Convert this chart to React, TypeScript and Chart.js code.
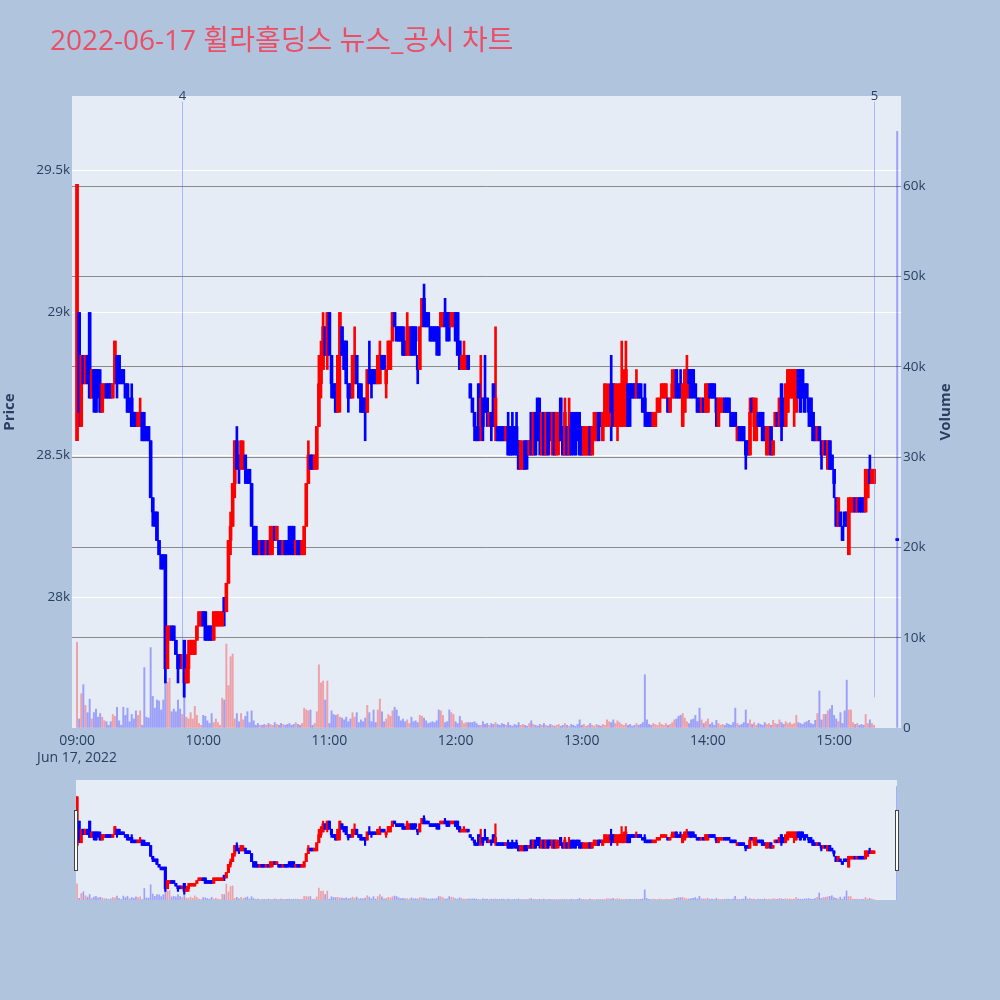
import React, { useEffect, useRef } from "react";
import { Chart, registerables } from "chart.js";

Chart.register(...registerables);

const chartTitle = "2022-06-17 휠라홀딩스 뉴스_공시 차트";
const dateLabel = "Jun 17, 2022";

// One row per minute, starting at the top of each hour: [open, high, low, close]
const ohlc0900 = [
  [28550, 29450, 28550, 29450], [29000, 29000, 28600, 28650], [28600, 28850, 28600, 28850], [28850, 28850, 28750, 28750],
  [28750, 28850, 28750, 28850], [28850, 28850, 28750, 28750], [29000, 29000, 28700, 28700], [28700, 28800, 28700, 28800],
  [28800, 28800, 28650, 28700], [28800, 28800, 28650, 28650], [28800, 28800, 28700, 28750], [28750, 28800, 28650, 28650],
  [28650, 28750, 28650, 28750], [28700, 28750, 28700, 28750], [28750, 28750, 28700, 28700], [28750, 28750, 28700, 28700],
  [28750, 28750, 28700, 28700], [28700, 28750, 28700, 28750], [28750, 28900, 28750, 28900], [28850, 28850, 28700, 28750],
  [28850, 28850, 28750, 28750], [28800, 28800, 28750, 28750], [28800, 28800, 28750, 28750], [28750, 28750, 28700, 28700],
  [28750, 28750, 28650, 28650], [28700, 28700, 28650, 28650], [28700, 28750, 28600, 28600], [28650, 28650, 28600, 28600],
  [28650, 28650, 28600, 28600], [28600, 28650, 28600, 28650], [28600, 28700, 28600, 28650], [28650, 28650, 28550, 28550],
  [28600, 28650, 28550, 28550], [28600, 28600, 28550, 28550], [28600, 28600, 28550, 28550], [28550, 28550, 28350, 28350],
  [28350, 28350, 28250, 28300], [28300, 28300, 28250, 28250], [28300, 28300, 28200, 28200], [28200, 28200, 28150, 28150],
  [28150, 28150, 28100, 28100], [28150, 28150, 28100, 28100], [28150, 28150, 27700, 27750], [27750, 27900, 27750, 27900],
  [27850, 27900, 27850, 27900], [27900, 27900, 27850, 27850], [27900, 27900, 27850, 27850], [27850, 27850, 27800, 27800],
  [27800, 27800, 27700, 27750], [27800, 27800, 27750, 27750], [27750, 27800, 27750, 27800], [27850, 27850, 27650, 27700],
  [27700, 27800, 27700, 27750], [27750, 27850, 27700, 27800], [27800, 27850, 27800, 27850], [27800, 27850, 27800, 27850],
  [27800, 27850, 27800, 27850], [27850, 27900, 27850, 27900], [27900, 27950, 27900, 27950], [27900, 27950, 27900, 27950],
];
const ohlc1000 = [
  [27950, 27950, 27900, 27900], [27950, 27950, 27850, 27850], [27900, 27900, 27850, 27850], [27900, 27900, 27850, 27850],
  [27900, 27900, 27850, 27850], [27850, 27950, 27850, 27950], [27900, 27950, 27900, 27950], [27900, 27950, 27900, 27950],
  [27900, 27950, 27900, 27950], [27900, 27950, 27900, 27950], [28000, 28000, 27900, 27950], [27950, 28050, 27950, 28050],
  [28050, 28200, 28050, 28200], [28200, 28300, 28150, 28250], [28250, 28400, 28250, 28400], [28400, 28550, 28350, 28550],
  [28550, 28600, 28450, 28450], [28500, 28500, 28400, 28450], [28450, 28550, 28450, 28550], [28450, 28550, 28450, 28500],
  [28500, 28500, 28400, 28450], [28450, 28450, 28400, 28400], [28450, 28450, 28400, 28400], [28400, 28400, 28250, 28250],
  [28250, 28250, 28150, 28150], [28250, 28250, 28150, 28150], [28200, 28200, 28150, 28150], [28150, 28200, 28150, 28200],
  [28200, 28200, 28150, 28150], [28200, 28200, 28150, 28150], [28150, 28200, 28150, 28200], [28200, 28200, 28150, 28150],
  [28150, 28250, 28150, 28250], [28200, 28250, 28150, 28250], [28250, 28250, 28200, 28200], [28200, 28250, 28200, 28250],
  [28200, 28200, 28150, 28150], [28200, 28200, 28150, 28150], [28150, 28200, 28150, 28200], [28200, 28200, 28150, 28150],
  [28200, 28200, 28150, 28150], [28250, 28250, 28150, 28200], [28250, 28250, 28150, 28150], [28250, 28250, 28150, 28150],
  [28150, 28200, 28150, 28200], [28200, 28200, 28150, 28150], [28200, 28200, 28150, 28150], [28150, 28200, 28150, 28200],
  [28150, 28250, 28150, 28250], [28250, 28400, 28250, 28400], [28400, 28550, 28400, 28500], [28500, 28500, 28450, 28450],
  [28500, 28500, 28450, 28450], [28450, 28500, 28450, 28500], [28450, 28600, 28450, 28600], [28600, 28850, 28600, 28750],
  [28750, 28900, 28700, 28850], [28800, 29000, 28800, 28950], [28950, 28950, 28850, 28850], [28850, 29000, 28800, 29000],
];
const ohlc1100 = [
  [29000, 29000, 28850, 28850], [28850, 28850, 28700, 28750], [28750, 28750, 28700, 28700], [28750, 28750, 28650, 28650],
  [28650, 28850, 28650, 28850], [28850, 29000, 28650, 29000], [28950, 28950, 28850, 28850], [28900, 28900, 28800, 28800],
  [28900, 28900, 28750, 28750], [28750, 28750, 28650, 28700], [28750, 28750, 28700, 28700], [28700, 28850, 28700, 28850],
  [28750, 28950, 28750, 28850], [28850, 28850, 28750, 28750], [28750, 28750, 28700, 28700], [28750, 28750, 28650, 28650],
  [28700, 28700, 28650, 28650], [28700, 28700, 28550, 28650], [28650, 28800, 28650, 28800], [28800, 28900, 28750, 28750],
  [28800, 28800, 28700, 28750], [28800, 28800, 28750, 28750], [28800, 28800, 28750, 28750], [28750, 28850, 28750, 28850],
  [28750, 28900, 28750, 28800], [28850, 28850, 28800, 28800], [28850, 28850, 28800, 28800], [28750, 28800, 28700, 28800],
  [28800, 28900, 28800, 28900], [28800, 28900, 28800, 28900], [28900, 29000, 28900, 29000], [29000, 29000, 28950, 28950],
  [28950, 28950, 28900, 28900], [28950, 28950, 28900, 28900], [28950, 28950, 28900, 28900], [28950, 28950, 28850, 28850],
  [28900, 28900, 28850, 28850], [28850, 29000, 28850, 28950], [28850, 28950, 28850, 28950], [28950, 28950, 28850, 28850],
  [28950, 28950, 28850, 28850], [28950, 28950, 28850, 28900], [28850, 28850, 28750, 28800], [28800, 28950, 28800, 28950],
  [28950, 29050, 28950, 29050], [29050, 29100, 28950, 28950], [29000, 29000, 28950, 28950], [29000, 29000, 28950, 28950],
  [28950, 28950, 28900, 28900], [28950, 28950, 28900, 28900], [28950, 28950, 28900, 28900], [28950, 28950, 28850, 28900],
  [28950, 28950, 28850, 28850], [28950, 29000, 28950, 29000], [28950, 29000, 28950, 29000], [29000, 29050, 28950, 28950],
  [29000, 29000, 28900, 28900], [29000, 29000, 28900, 28950], [28950, 29000, 28950, 29000], [28950, 29000, 28950, 29000],
];
const ohlc1200 = [
  [29000, 29000, 28900, 28900], [29000, 29000, 28850, 28850], [28900, 28900, 28800, 28800], [28800, 28850, 28800, 28850],
  [28800, 28900, 28800, 28850], [28800, 28850, 28800, 28850], [28850, 28850, 28800, 28800], [28750, 28750, 28700, 28700],
  [28700, 28700, 28650, 28650], [28650, 28650, 28550, 28600], [28600, 28600, 28550, 28550], [28750, 28750, 28550, 28600],
  [28600, 28850, 28550, 28700], [28700, 28700, 28550, 28600], [28700, 28850, 28650, 28650], [28700, 28700, 28600, 28650],
  [28600, 28650, 28600, 28650], [28650, 28650, 28550, 28600], [28750, 28750, 28600, 28600], [28600, 28950, 28550, 28700],
  [28600, 28600, 28550, 28550], [28600, 28600, 28550, 28550], [28600, 28600, 28550, 28550], [28600, 28600, 28550, 28550],
  [28550, 28600, 28550, 28600], [28600, 28650, 28500, 28500], [28600, 28600, 28500, 28500], [28600, 28650, 28500, 28500],
  [28600, 28600, 28500, 28550], [28600, 28650, 28500, 28500], [28550, 28550, 28450, 28450], [28450, 28550, 28450, 28550],
  [28450, 28550, 28450, 28500], [28550, 28550, 28450, 28450], [28550, 28550, 28450, 28500], [28500, 28550, 28500, 28550],
  [28650, 28650, 28500, 28500], [28500, 28650, 28500, 28650], [28650, 28650, 28500, 28500], [28700, 28700, 28550, 28550],
  [28650, 28700, 28500, 28550], [28500, 28650, 28500, 28650], [28650, 28650, 28500, 28500], [28500, 28650, 28500, 28650],
  [28650, 28650, 28500, 28500], [28650, 28650, 28550, 28550], [28500, 28650, 28500, 28650], [28650, 28650, 28500, 28500],
  [28500, 28650, 28500, 28650], [28550, 28650, 28500, 28600], [28700, 28700, 28550, 28550], [28600, 28600, 28500, 28500],
  [28500, 28700, 28500, 28650], [28600, 28600, 28500, 28500], [28500, 28700, 28500, 28600], [28600, 28650, 28500, 28500],
  [28650, 28650, 28500, 28550], [28600, 28650, 28500, 28500], [28650, 28650, 28550, 28550], [28600, 28650, 28500, 28500],
];
const ohlc1300 = [
  [28600, 28600, 28500, 28500], [28500, 28600, 28500, 28600], [28500, 28600, 28500, 28550], [28500, 28600, 28500, 28600],
  [28600, 28600, 28500, 28500], [28500, 28600, 28500, 28600], [28550, 28650, 28550, 28650], [28550, 28650, 28550, 28600],
  [28650, 28650, 28550, 28550], [28650, 28650, 28600, 28600], [28550, 28650, 28550, 28650], [28600, 28750, 28600, 28750],
  [28650, 28750, 28600, 28700], [28600, 28750, 28600, 28700], [28750, 28850, 28550, 28650], [28750, 28750, 28600, 28650],
  [28600, 28750, 28600, 28750], [28600, 28750, 28550, 28700], [28650, 28750, 28600, 28750], [28600, 28900, 28600, 28750],
  [28600, 28800, 28600, 28750], [28650, 28900, 28600, 28800], [28750, 28750, 28600, 28600], [28750, 28750, 28600, 28700],
  [28750, 28750, 28700, 28700], [28750, 28750, 28700, 28700], [28700, 28800, 28700, 28750], [28750, 28750, 28700, 28700],
  [28750, 28750, 28700, 28700], [28700, 28700, 28650, 28650], [28700, 28750, 28600, 28650], [28650, 28650, 28600, 28600],
  [28650, 28650, 28600, 28600], [28650, 28650, 28600, 28600], [28600, 28650, 28600, 28650], [28600, 28650, 28600, 28650],
  [28650, 28700, 28650, 28700], [28650, 28700, 28650, 28700], [28700, 28750, 28700, 28750], [28700, 28750, 28700, 28750],
  [28700, 28750, 28700, 28750], [28700, 28700, 28650, 28650], [28650, 28700, 28650, 28700], [28700, 28800, 28700, 28750],
  [28700, 28800, 28700, 28750], [28800, 28800, 28700, 28700], [28750, 28750, 28700, 28700], [28750, 28800, 28700, 28700],
  [28600, 28750, 28600, 28750], [28650, 28800, 28650, 28800], [28700, 28850, 28700, 28800], [28800, 28800, 28700, 28750],
  [28800, 28800, 28700, 28700], [28800, 28800, 28700, 28750], [28750, 28750, 28700, 28700], [28700, 28700, 28650, 28650],
  [28700, 28700, 28650, 28650], [28650, 28700, 28650, 28700], [28700, 28700, 28650, 28650], [28650, 28750, 28650, 28750],
];
const ohlc1400 = [
  [28650, 28750, 28650, 28750], [28750, 28750, 28700, 28700], [28750, 28750, 28700, 28700], [28750, 28750, 28700, 28700],
  [28700, 28700, 28600, 28650], [28600, 28700, 28600, 28700], [28650, 28700, 28650, 28700], [28650, 28700, 28650, 28700],
  [28700, 28700, 28650, 28650], [28700, 28700, 28650, 28650], [28700, 28700, 28650, 28650], [28650, 28650, 28600, 28600],
  [28650, 28650, 28600, 28600], [28650, 28650, 28600, 28600], [28550, 28600, 28550, 28600], [28600, 28600, 28550, 28550],
  [28600, 28600, 28550, 28550], [28600, 28600, 28550, 28550], [28550, 28550, 28450, 28500], [28550, 28550, 28500, 28500],
  [28500, 28700, 28500, 28650], [28700, 28700, 28650, 28650], [28600, 28700, 28550, 28700], [28550, 28700, 28550, 28650],
  [28650, 28650, 28600, 28600], [28650, 28650, 28600, 28600], [28650, 28650, 28550, 28550], [28600, 28600, 28550, 28550],
  [28500, 28600, 28500, 28600], [28550, 28600, 28500, 28600], [28600, 28600, 28500, 28500], [28500, 28550, 28500, 28550],
  [28600, 28650, 28600, 28650], [28650, 28650, 28600, 28600], [28600, 28700, 28600, 28700], [28750, 28750, 28550, 28600],
  [28700, 28700, 28600, 28600], [28600, 28750, 28600, 28750], [28650, 28800, 28650, 28800], [28700, 28800, 28700, 28800],
  [28700, 28800, 28700, 28800], [28700, 28800, 28600, 28800], [28650, 28800, 28650, 28800], [28800, 28800, 28700, 28700],
  [28800, 28800, 28650, 28650], [28800, 28800, 28700, 28700], [28750, 28750, 28650, 28650], [28750, 28750, 28700, 28700],
  [28700, 28700, 28600, 28650], [28700, 28700, 28600, 28600], [28650, 28650, 28550, 28550], [28600, 28600, 28550, 28550],
  [28550, 28600, 28550, 28600], [28600, 28600, 28550, 28550], [28550, 28550, 28450, 28500], [28500, 28550, 28500, 28550],
  [28550, 28550, 28500, 28500], [28450, 28550, 28450, 28550], [28550, 28550, 28450, 28450], [28500, 28500, 28450, 28450],
];
const ohlc1500 = [
  [28450, 28450, 28350, 28400], [28350, 28350, 28250, 28250], [28250, 28350, 28250, 28350], [28300, 28300, 28250, 28250],
  [28250, 28250, 28200, 28200], [28300, 28300, 28250, 28250], [28300, 28300, 28250, 28250], [28150, 28350, 28150, 28350],
  [28300, 28350, 28300, 28350], [28300, 28350, 28300, 28350], [28350, 28350, 28300, 28300], [28300, 28350, 28300, 28350],
  [28350, 28350, 28300, 28300], [28350, 28350, 28300, 28300], [28350, 28350, 28300, 28300], [28300, 28450, 28300, 28450],
  [28350, 28450, 28350, 28450], [28450, 28500, 28400, 28400], [28400, 28450, 28400, 28450], [28400, 28450, 28400, 28450],
];

// Traded shares per minute, same layout as the price rows
const vol0900 = [
  9500, 1000, 3800, 4800, 2500, 1700, 3200, 1000, 1700, 2100, 1200, 1600, 1200, 800, 700, 300, 700, 1500, 1300, 2300,
  800, 300, 2300, 1400, 2200, 700, 1500, 1000, 1900, 1400, 1900, 300, 6700, 1200, 1100, 8900, 3500, 2200, 3100, 3000,
  2000, 3100, 5500, 5100, 5500, 1800, 2100, 1800, 3100, 2100, 1500, 3500, 1200, 1000, 1700, 1000, 2400, 1400, 500, 300,
];
const vol1000 = [
  1400, 1300, 800, 500, 1600, 600, 1000, 600, 300, 3300, 3100, 9300, 4700, 7900, 8200, 1000, 1600, 700, 1600, 900,
  1300, 1800, 600, 1900, 800, 300, 500, 300, 300, 400, 300, 500, 400, 300, 600, 400, 300, 500, 400, 300,
  400, 500, 300, 400, 600, 400, 300, 500, 2200, 2000, 1900, 2000, 300, 500, 1800, 7000, 5000, 5200, 3100, 5200,
];
const vol1100 = [
  500, 1900, 1500, 1400, 1500, 1200, 1100, 900, 1200, 700, 1000, 1700, 1200, 1700, 600, 900, 700, 1100, 2500, 1700,
  700, 2000, 600, 2000, 3200, 1800, 700, 1000, 1500, 1300, 1900, 2300, 2000, 1300, 800, 1000, 700, 900, 500, 1200,
  700, 800, 600, 1400, 1300, 1100, 800, 500, 600, 700, 600, 800, 2000, 1900, 1400, 600, 700, 2000, 1700, 1500,
];
const vol1200 = [
  700, 500, 1300, 800, 500, 600, 600, 600, 600, 700, 500, 300, 300, 700, 400, 500, 300, 500, 400, 600,
  400, 300, 500, 400, 300, 600, 300, 200, 400, 300, 600, 300, 400, 300, 200, 500, 800, 400, 300, 200,
  400, 300, 500, 300, 200, 400, 300, 200, 300, 400, 200, 300, 500, 300, 200, 400, 300, 200, 400, 900,
];
const vol1300 = [
  300, 400, 200, 300, 500, 300, 200, 400, 300, 200, 400, 300, 900, 700, 600, 900, 500, 800, 600, 400,
  300, 500, 300, 400, 200, 300, 500, 300, 400, 600, 5900, 900, 400, 300, 500, 400, 300, 600, 400, 300,
  500, 300, 400, 600, 900, 1000, 1300, 1400, 1600, 1100, 700, 500, 900, 1000, 1400, 700, 2200, 900, 500, 700,
];
const vol1400 = [
  1000, 400, 600, 300, 850, 500, 300, 400, 300, 500, 400, 300, 600, 2200, 500, 300, 400, 600, 2000, 500,
  900, 400, 600, 300, 500, 400, 300, 600, 400, 500, 300, 850, 500, 400, 900, 600, 400, 700, 500, 600,
  400, 500, 1400, 600, 500, 400, 600, 700, 850, 500, 400, 850, 1600, 4100, 900, 1500, 1500, 1900, 2100, 2500,
];
const vol1500 = [
  1400, 1000, 700, 1700, 500, 1900, 5300, 2000, 2000, 600, 400, 500, 300, 400, 300, 1500, 500, 900, 500, 300,
];

// 15:30 closing single-price auction
const closingMinute = 390;
const closingOhlc = [28200, 28200, 28200, 28200];
const closingVolume = 66100;

// News / disclosure markers (minutes after 09:00)
const newsMarkers = [
  { label: "4", minute: 50 },
  { label: "5", minute: 379 },
];
const markerPriceSpan = [27650, 29740];

const priceTicks = [28000, 28500, 29000, 29500];
const volumeTicks = [0, 10000, 20000, 30000, 40000, 50000, 60000];
const timeTicks = [0, 60, 120, 180, 240, 300, 360];
const timeLabels = ["09:00", "10:00", "11:00", "12:00", "13:00", "14:00", "15:00"];

const priceRange = [27542, 29760];
const volumeRange = [0, 70000];
const mainMinuteRange = [-2.4, 391.8];
const sliderMinuteRange = [-0.5, 390];

const INC = "#ff0000";
const DEC = "#0000ff";
const INC_VOL = "rgba(255,0,0,0.32)";
const DEC_VOL = "rgba(0,0,255,0.32)";
const TEXT = "#2a3f5f";
const PLOT_BG = "#e5ecf6";
const PAPER_BG = "#b0c4de";
const FONT = '"Open Sans", "Noto Sans CJK KR", verdana, arial, sans-serif';

type Candle = { m: number; o: number; h: number; l: number; c: number; v: number; up: boolean };

function buildCandles(): Candle[] {
  const blocks: [number[][], number[]][] = [
    [ohlc0900, vol0900],
    [ohlc1000, vol1000],
    [ohlc1100, vol1100],
    [ohlc1200, vol1200],
    [ohlc1300, vol1300],
    [ohlc1400, vol1400],
    [ohlc1500, vol1500],
  ];
  const out: Candle[] = [];
  blocks.forEach(([rows, vols], hour) => {
    rows.forEach((r, i) => {
      out.push({ m: hour * 60 + i, o: r[0], h: r[1], l: r[2], c: r[3], v: vols[i], up: false });
    });
  });
  out.push({
    m: closingMinute,
    o: closingOhlc[0],
    h: closingOhlc[1],
    l: closingOhlc[2],
    c: closingOhlc[3],
    v: closingVolume,
    up: false,
  });
  let prevClose = out[0].o;
  for (const k of out) {
    k.up = k.c > k.o || (k.c === k.o && k.c > prevClose);
    prevClose = k.c;
  }
  return out;
}

function candleDatasets(candles: Candle[], body: number, wick: number, vol: number) {
  const colors = candles.map((k) => (k.up ? INC : DEC));
  const volColors = candles.map((k) => (k.up ? INC_VOL : DEC_VOL));
  return [
    {
      label: "body",
      data: candles.map((k) => ({ x: k.m, y: [Math.min(k.o, k.c), Math.max(k.o, k.c)] })),
      backgroundColor: colors,
      barThickness: body,
      minBarLength: 2,
      grouped: false,
      yAxisID: "y",
      order: 0,
    },
    {
      label: "wick",
      data: candles.map((k) => ({ x: k.m, y: [k.l, k.h] })),
      backgroundColor: colors,
      barThickness: wick,
      minBarLength: 1,
      grouped: false,
      yAxisID: "y",
      order: 1,
    },
    {
      label: "volume",
      data: candles.map((k) => ({ x: k.m, y: k.v })),
      backgroundColor: volColors,
      barThickness: vol,
      grouped: false,
      yAxisID: "yVol",
      order: 2,
    },
  ];
}

const plotBackground = {
  id: "plotBackground",
  beforeDraw(chart: any) {
    const { ctx, chartArea } = chart;
    ctx.save();
    ctx.fillStyle = PLOT_BG;
    ctx.fillRect(chartArea.left, chartArea.top, chartArea.right - chartArea.left, chartArea.bottom - chartArea.top);
    ctx.restore();
  },
};

const newsMarkerLines = {
  id: "newsMarkerLines",
  afterDatasetsDraw(chart: any) {
    const { ctx, chartArea, scales } = chart;
    ctx.save();
    for (const mk of newsMarkers) {
      const x = Math.round(scales.x.getPixelForValue(mk.minute)) + 0.5;
      const yTop = scales.y.getPixelForValue(markerPriceSpan[1]);
      const yBottom = scales.y.getPixelForValue(markerPriceSpan[0]);
      ctx.strokeStyle = "rgba(90,120,250,0.45)";
      ctx.lineWidth = 1;
      ctx.beginPath();
      ctx.moveTo(x, yTop);
      ctx.lineTo(x, yBottom);
      ctx.stroke();
      ctx.fillStyle = TEXT;
      ctx.font = `13px ${FONT}`;
      ctx.textAlign = "center";
      ctx.textBaseline = "middle";
      ctx.fillText(mk.label, x, chartArea.top + 0.5);
    }
    ctx.restore();
  },
};

const chartTexts = {
  id: "chartTexts",
  afterDraw(chart: any) {
    const { ctx, chartArea } = chart;
    const midY = (chartArea.top + chartArea.bottom) / 2;
    ctx.save();
    ctx.fillStyle = "#ea4f66";
    ctx.font = `28px ${FONT}`;
    ctx.textAlign = "left";
    ctx.textBaseline = "alphabetic";
    ctx.fillText(chartTitle, 50, 50);

    ctx.fillStyle = TEXT;
    ctx.font = `bold 15px ${FONT}`;
    ctx.textAlign = "center";
    ctx.textBaseline = "middle";
    const axisTitles: [string, number][] = [
      ["Price", 10],
      ["Volume", 946],
    ];
    for (const [text, x] of axisTitles) {
      ctx.save();
      ctx.translate(x, midY);
      ctx.rotate(-Math.PI / 2);
      ctx.fillText(text, 0, 0);
      ctx.restore();
    }
    ctx.restore();
  },
};

const sliderDecor = {
  id: "sliderDecor",
  beforeDraw(chart: any) {
    const { ctx, chartArea } = chart;
    ctx.save();
    ctx.fillStyle = PLOT_BG;
    ctx.fillRect(chartArea.left, chartArea.top, chartArea.right - chartArea.left, chartArea.bottom - chartArea.top);
    ctx.restore();
  },
  afterDraw(chart: any) {
    const { ctx, chartArea } = chart;
    const hTop = chartArea.top + 30;
    const hHeight = 60;
    ctx.save();
    ctx.fillStyle = "#ffffff";
    ctx.strokeStyle = "#444444";
    ctx.lineWidth = 1;
    for (const edge of [chartArea.left, chartArea.right]) {
      const x = Math.round(edge - 2) + 0.5;
      ctx.fillRect(x, hTop + 0.5, 3, hHeight);
      ctx.strokeRect(x, hTop + 0.5, 3, hHeight);
    }
    ctx.restore();
  },
};

export default function App() {
  const mainRef = useRef<HTMLCanvasElement>(null);
  const sliderRef = useRef<HTMLCanvasElement>(null);

  useEffect(() => {
    Chart.defaults.font.family = FONT;
    Chart.defaults.color = TEXT;
    const candles = buildCandles();

    const main = new Chart(mainRef.current as HTMLCanvasElement, {
      type: "bar",
      data: { datasets: candleDatasets(candles, 3, 2, 1.3) as any },
      options: {
        responsive: false,
        animation: false,
        events: [],
        layout: { padding: { top: 96, left: 0, right: 0, bottom: 0 } },
        plugins: {
          legend: { display: false },
          tooltip: { enabled: false },
          title: { display: false },
        },
        scales: {
          x: {
            type: "linear",
            min: mainMinuteRange[0],
            max: mainMinuteRange[1],
            offset: false,
            grid: { display: false, drawTicks: false },
            border: { display: false },
            afterBuildTicks: (s: any) => {
              s.ticks = timeTicks.map((v) => ({ value: v }));
            },
            afterFit: (s: any) => {
              s.height = 272;
            },
            ticks: {
              autoSkip: false,
              maxRotation: 0,
              padding: 5,
              color: TEXT,
              font: { size: 14, lineHeight: 1.2 },
              callback: (v: any) => {
                const i = timeTicks.indexOf(Number(v));
                if (i < 0) return "";
                return i === 0 ? [timeLabels[0], dateLabel] : timeLabels[i];
              },
            },
          },
          y: {
            position: "left",
            min: priceRange[0],
            max: priceRange[1],
            grid: { color: "#ffffff", lineWidth: 1, drawTicks: false },
            border: { display: false },
            afterBuildTicks: (s: any) => {
              s.ticks = priceTicks.map((v) => ({ value: v }));
            },
            afterFit: (s: any) => {
              s.width = 72;
            },
            ticks: {
              padding: 2,
              color: TEXT,
              font: { size: 13.5 },
              callback: (v: any) => `${Number(v) / 1000}k`,
            },
          },
          yVol: {
            position: "right",
            min: volumeRange[0],
            max: volumeRange[1],
            grid: {
              color: (c: any) => (c.tick && c.tick.value === 0 ? "rgba(0,0,0,0)" : "rgba(128,128,128,0.9)"),
              lineWidth: 1,
              drawTicks: false,
            },
            border: { display: false },
            afterBuildTicks: (s: any) => {
              s.ticks = volumeTicks.map((v) => ({ value: v }));
            },
            afterFit: (s: any) => {
              s.width = 99;
            },
            ticks: {
              padding: 2,
              color: TEXT,
              font: { size: 13.5 },
              callback: (v: any) => (Number(v) === 0 ? "0" : `${Number(v) / 1000}k`),
            },
          },
        },
      } as any,
      plugins: [plotBackground, newsMarkerLines, chartTexts],
    });

    const slider = new Chart(sliderRef.current as HTMLCanvasElement, {
      type: "bar",
      data: { datasets: candleDatasets(candles, 2.5, 1.5, 1) as any },
      options: {
        responsive: false,
        animation: false,
        events: [],
        layout: { padding: { left: 10, right: 9, top: 4, bottom: 4 } },
        plugins: {
          legend: { display: false },
          tooltip: { enabled: false },
          title: { display: false },
        },
        scales: {
          x: { type: "linear", display: false, min: sliderMinuteRange[0], max: sliderMinuteRange[1], offset: false },
          y: { display: false, min: priceRange[0], max: priceRange[1] },
          yVol: { display: false, position: "right", min: volumeRange[0], max: volumeRange[1] },
        },
      } as any,
      plugins: [sliderDecor],
    });

    return () => {
      main.destroy();
      slider.destroy();
    };
  }, []);

  return (
    <div
      style={{
        position: "fixed",
        left: 0,
        top: 0,
        width: 1000,
        height: 1000,
        background: PAPER_BG,
        overflow: "hidden",
      }}
    >
      <canvas ref={mainRef} width={1000} height={1000} style={{ position: "absolute", left: 0, top: 0 }} />
      <canvas ref={sliderRef} width={840} height={128} style={{ position: "absolute", left: 66, top: 776 }} />
    </div>
  );
}
